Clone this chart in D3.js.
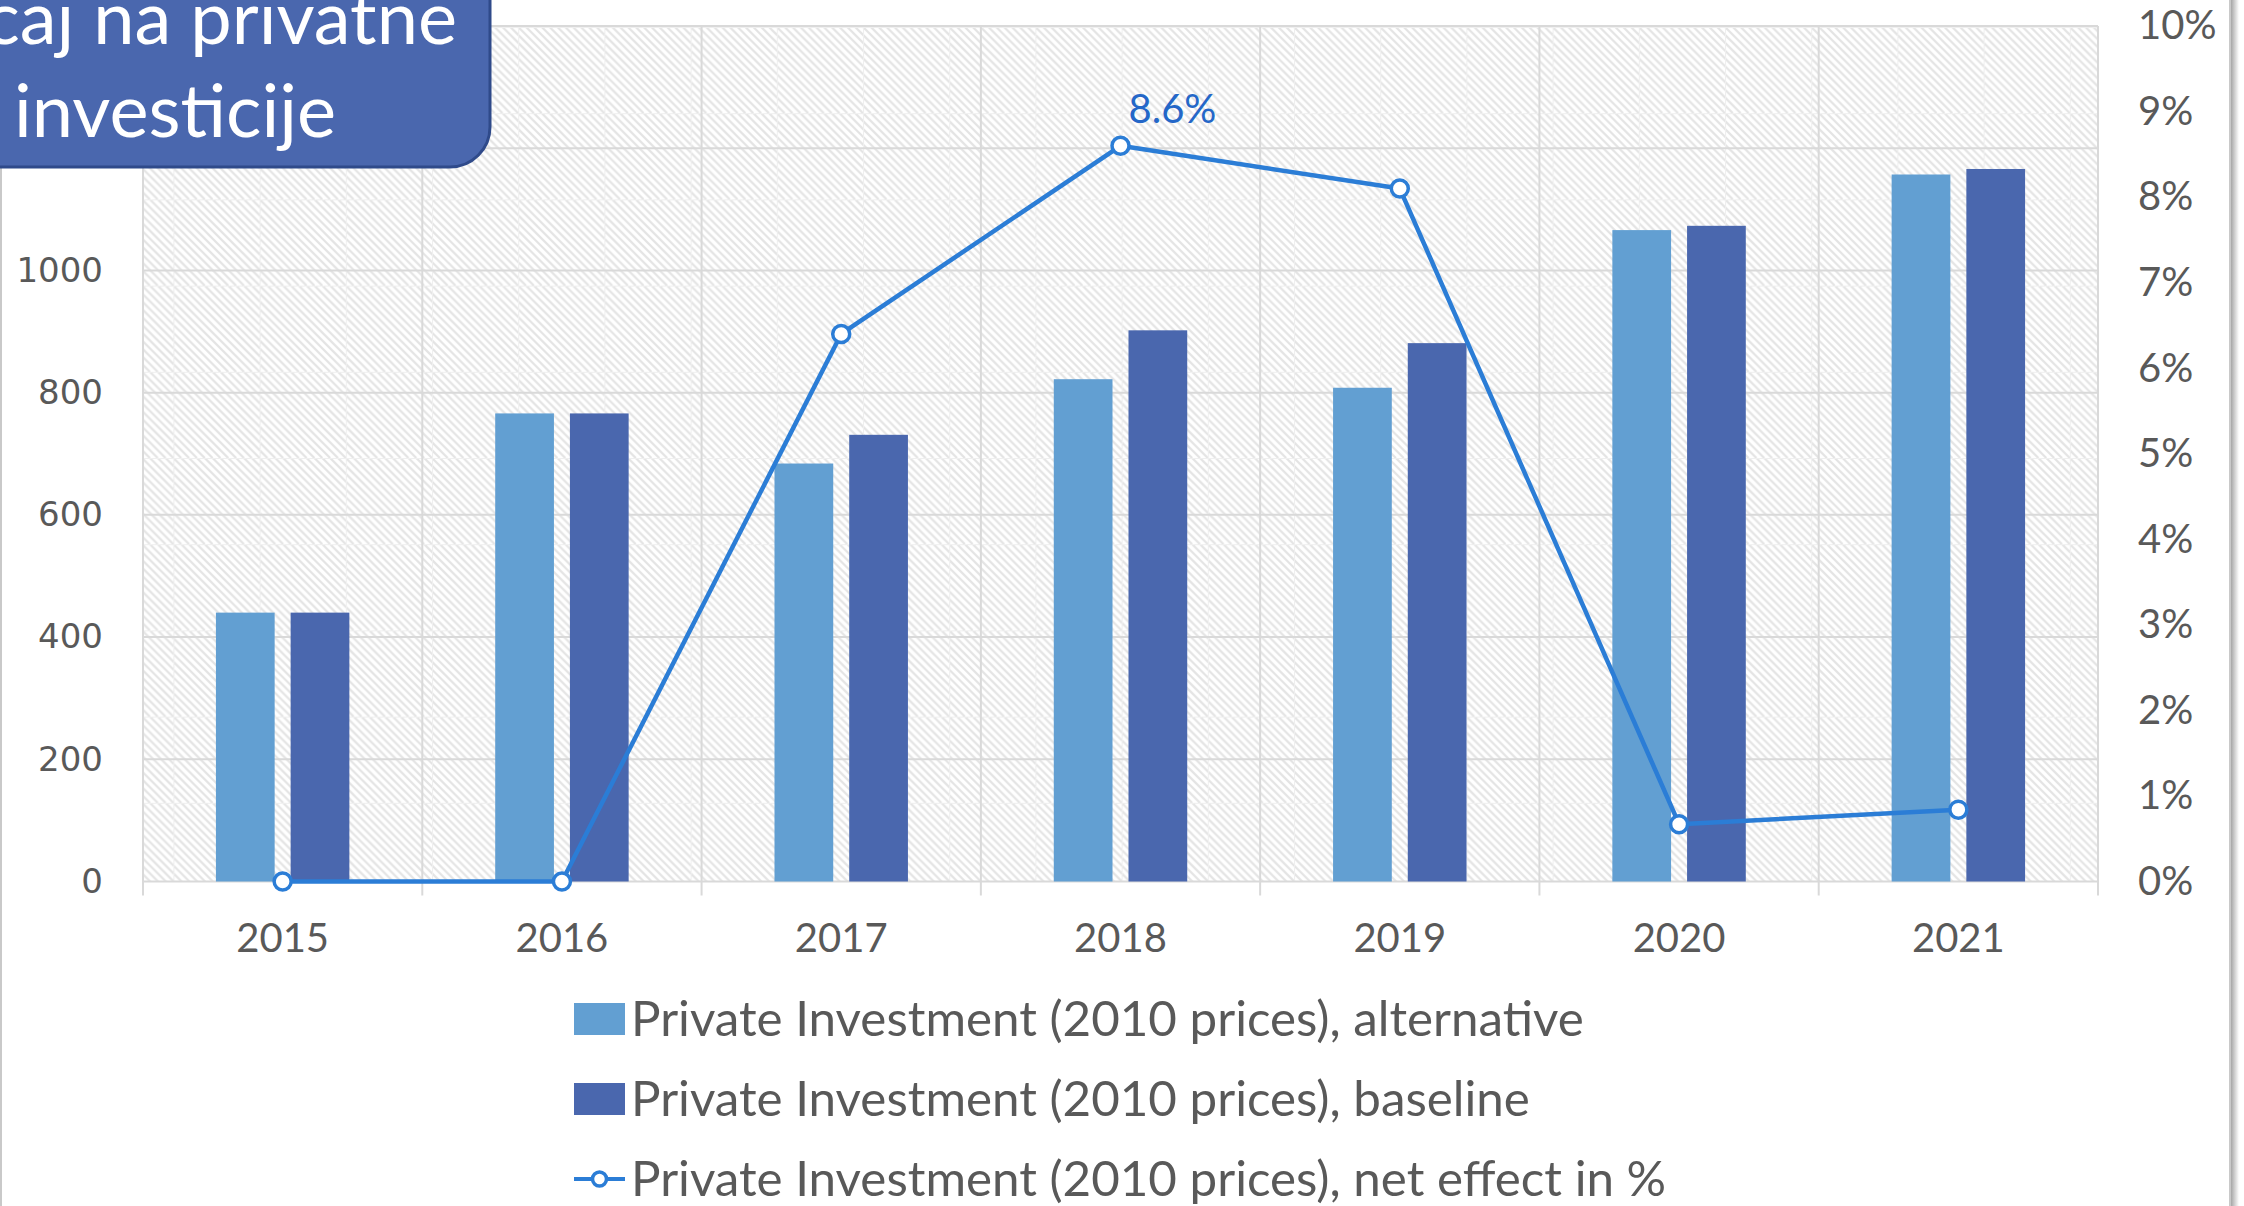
<html>
  <head>
    <title>Private investment</title>
    <script src="https://d3js.org/d3.v7.min.js"></script>
    <style>
      body {
        margin: 0;
        overflow: hidden;
        background-color: #fff;
      }
      svg text {
        fill: #595959;
      }
    </style>
  </head>
  <body>
    <svg width="2244" height="1206"></svg>

    <script>
      // data
      var years = ["2015", "2016", "2017", "2018", "2019", "2020", "2021"];
      var alternative = [440, 766, 684, 822, 808, 1066, 1157];
      var baseline = [440, 766, 731, 902, 881, 1073, 1166];
      var netEffect = [0, 0, 6.4, 8.6, 8.1, 0.67, 0.84];
      var leftTicks = [0, 200, 400, 600, 800, 1000, 1200, 1400];
      // 1200 and 1400 sit under the title box, so no label is shown for them
      var leftTickLabels = [0, 200, 400, 600, 800, 1000];
      var rightTicks = [0, 1, 2, 3, 4, 5, 6, 7, 8, 9, 10];
      var seriesNames = ["alternative", "baseline"];
      var legendLabels = [
        "Private Investment (2010 prices), alternative",
        "Private Investment (2010 prices), baseline",
        "Private Investment (2010 prices), net effect in %"
      ];
      var titleLines = ["Utjecaj na privatne", "investicije"];

      var colors = { alternative: "#629fd2", baseline: "#4a67ae", line: "#2b7dd6", grid: "#d9d9d9" };
      var calibri = "Lato, 'Open Sans', sans-serif";

      var svg = d3.select("svg");
      var plotLeft = 143, plotRight = 2098, plotTop = 26, plotBottom = 881.5;

      var x = d3.scaleBand().domain(years).range([plotLeft, plotRight]);
      var x1 = d3.scaleBand().domain(seriesNames).range([0, x.bandwidth()])
        .paddingInner(0.214).paddingOuter(0.976);
      var yL = d3.scaleLinear().domain([0, 1400]).range([plotBottom, plotTop]);
      var yR = d3.scaleLinear().domain([0, 10]).range([plotBottom, plotTop]);

      // hatch fill of plot area
      var defs = svg.append("defs");
      var tile = 86.2, step = tile / 11;
      var pat = defs.append("pattern").attr("id", "hatch")
        .attr("patternUnits", "userSpaceOnUse")
        .attr("x", 1).attr("y", 27).attr("width", tile).attr("height", tile);
      pat.append("rect").attr("width", tile).attr("height", tile).attr("fill", "#fff");
      d3.range(-11, 12).forEach(function(k){
        pat.append("line")
          .attr("x1", k * step).attr("y1", 0)
          .attr("x2", k * step + tile).attr("y2", tile)
          .attr("stroke", "#e4e4e4").attr("stroke-width", 2.2);
      });
      pat.append("path").attr("d", "M0,0.5H" + tile + "M0.5,0V" + tile)
        .attr("stroke", "#efefef").attr("stroke-width", 1).attr("fill", "none");

      var shadow = defs.append("linearGradient").attr("id", "shadow");
      shadow.append("stop").attr("offset", 0).attr("stop-color", "#a6a6a6");
      shadow.append("stop").attr("offset", 1).attr("stop-color", "#fff");

      // chart area border
      svg.append("rect").attr("x", 2231).attr("y", 0).attr("width", 8).attr("height", 1206)
        .attr("fill", "url(#shadow)");
      svg.append("rect").attr("x", 1).attr("y", -10).attr("width", 2229).attr("height", 1300)
        .attr("fill", "none").attr("stroke", "#c9c9c9").attr("stroke-width", 2);

      svg.append("rect").attr("x", plotLeft).attr("y", plotTop)
        .attr("width", plotRight - plotLeft).attr("height", plotBottom - plotTop)
        .attr("fill", "url(#hatch)");

      // gridlines
      svg.append("g").selectAll("line").data(leftTicks).enter().append("line")
        .attr("x1", plotLeft).attr("x2", plotRight)
        .attr("y1", function(d){ return yL(d); }).attr("y2", function(d){ return yL(d); })
        .attr("stroke", colors.grid).attr("stroke-width", 2);

      var bounds = years.map(function(d){ return x(d); }).concat([plotRight]);
      svg.append("g").selectAll("line").data(bounds).enter().append("line")
        .attr("x1", function(d){ return d; }).attr("x2", function(d){ return d; })
        .attr("y1", plotTop).attr("y2", plotBottom + 14)
        .attr("stroke", colors.grid).attr("stroke-width", 2);

      // bars
      var groups = svg.append("g").selectAll("g").data(years).enter().append("g")
        .attr("transform", function(d){ return "translate(" + x(d) + ",0)"; });
      groups.selectAll("rect")
        .data(function(d, i){
          return [
            { key: "alternative", value: alternative[i] },
            { key: "baseline", value: baseline[i] }
          ];
        })
        .enter().append("rect")
        .attr("x", function(d){ return x1(d.key); })
        .attr("width", x1.bandwidth())
        .attr("y", function(d){ return yL(d.value); })
        .attr("height", function(d){ return yL(0) - yL(d.value); })
        .attr("fill", function(d){ return colors[d.key]; });

      // axes
      var axL = svg.append("g").attr("transform", "translate(" + plotLeft + ",0)")
        .call(d3.axisLeft(yL).tickValues(leftTickLabels).tickSize(0).tickPadding(40)
          .tickFormat(d3.format("d")));
      axL.select(".domain").remove();
      axL.selectAll("text").style("font-family", "'DejaVu Sans', sans-serif")
        .style("font-size", "34px").style("fill", "#595959");

      var axR = svg.append("g").attr("transform", "translate(" + plotRight + ",0)")
        .call(d3.axisRight(yR).tickValues(rightTicks).tickSize(0).tickPadding(40)
          .tickFormat(function(d){ return d + "%"; }));
      axR.select(".domain").remove();
      axR.selectAll("text").style("font-family", calibri)
        .style("font-size", "40px").style("fill", "#595959");

      var axB = svg.append("g").attr("transform", "translate(0," + plotBottom + ")")
        .call(d3.axisBottom(x).tickSize(0).tickPadding(0));
      axB.select(".domain").remove();
      axB.selectAll("text").attr("y", 70).attr("dy", 0)
        .style("font-family", calibri).style("font-size", "40px").style("fill", "#595959");

      // net effect line
      var cx = function(i){ return x(years[i]) + x.bandwidth() / 2; };
      var line = d3.line()
        .x(function(d, i){ return cx(i); })
        .y(function(d){ return yR(d); });
      svg.append("path").datum(netEffect)
        .attr("d", line).attr("fill", "none")
        .attr("stroke", colors.line).attr("stroke-width", 4.5).attr("stroke-linejoin", "round");
      svg.append("g").selectAll("circle").data(netEffect).enter().append("circle")
        .attr("cx", function(d, i){ return cx(i); })
        .attr("cy", function(d){ return yR(d); })
        .attr("r", 8.5).attr("fill", "#fff")
        .attr("stroke", colors.line).attr("stroke-width", 3.5);

      var peak = d3.maxIndex(netEffect);
      svg.append("text")
        .attr("x", cx(peak) + 8).attr("y", yR(netEffect[peak]) - 23)
        .style("font-family", calibri).style("font-size", "40px")
        .style("fill", "#2467c8")
        .text(netEffect[peak].toFixed(1) + "%");

      // legend
      var legend = svg.append("g");
      var rowY = [1019, 1099, 1179];
      legendLabels.forEach(function(label, i){
        var g = legend.append("g").attr("transform", "translate(0," + rowY[i] + ")");
        if (i < 2) {
          g.append("rect").attr("x", 574).attr("y", -16).attr("width", 51).attr("height", 32)
            .attr("fill", colors[seriesNames[i]]);
        } else {
          g.append("line").attr("x1", 574).attr("x2", 625).attr("y1", 0).attr("y2", 0)
            .attr("stroke", colors.line).attr("stroke-width", 4);
          g.append("circle").attr("cx", 599.5).attr("cy", 0).attr("r", 7)
            .attr("fill", "#fff").attr("stroke", colors.line).attr("stroke-width", 3.5);
        }
        g.append("text").attr("class", "legend-text")
          .attr("x", 631).attr("y", 0).attr("dy", "0.35em")
          .style("font-family", calibri).style("font-size", "48px")
          .text(label);
      });
      // fit legend font to the width seen in the picture
      var first = legend.select(".legend-text").node();
      var w = first.getComputedTextLength();
      var size = Math.min(50, 48 * 953 / w);
      legend.selectAll(".legend-text").style("font-size", size + "px");

      // title box
      var title = svg.append("g");
      title.append("rect").attr("x", -80).attr("y", -80).attr("width", 570).attr("height", 247)
        .attr("rx", 40).attr("ry", 40)
        .attr("fill", "#4a67ae").attr("stroke", "#2f4a8a").attr("stroke-width", 3);
      title.append("text").attr("x", 457).attr("y", 44).attr("text-anchor", "end")
        .style("font-family", calibri).style("font-size", "74px").style("fill", "#fff")
        .text(titleLines[0]);
      title.append("text").attr("x", 14).attr("y", 137)
        .style("font-family", calibri).style("font-size", "74px").style("fill", "#fff")
        .text(titleLines[1]);
    </script>
  </body>
</html>
